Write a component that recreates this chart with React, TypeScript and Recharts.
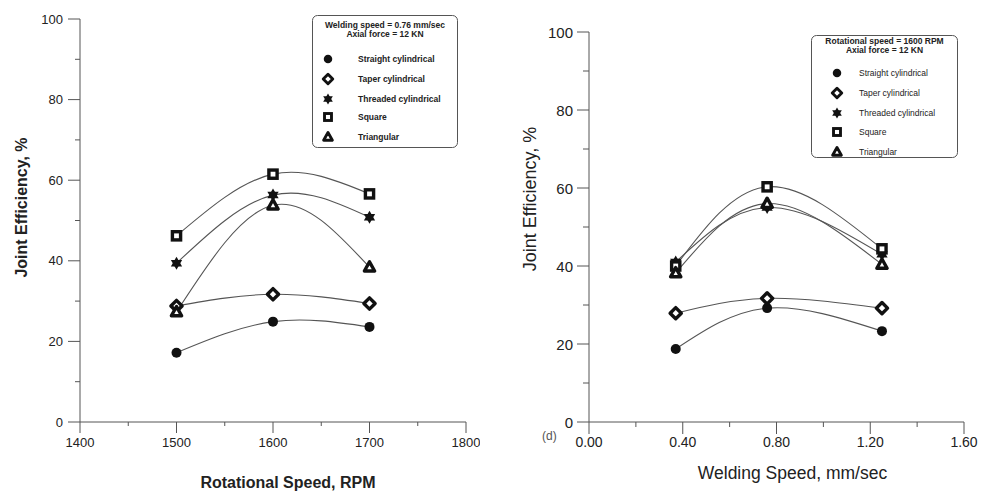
import React from "react";
import { LineChart, Line, XAxis, YAxis, Label } from "recharts";

// ---- Left panel: joint efficiency vs rotational speed ----
const rpmValues = [1500, 1600, 1700];
const leftStraight = [17.2, 24.9, 23.6];
const leftTaper = [28.8, 31.7, 29.4];
const leftThreaded = [39.4, 56.3, 50.8];
const leftSquare = [46.2, 61.5, 56.6];
const leftTriangular = [27.3, 53.8, 38.4];
const rpmTicks = [1400, 1450, 1500, 1550, 1600, 1650, 1700, 1750, 1800];

// ---- Right panel: joint efficiency vs welding speed ----
const speedValues = [0.37, 0.76, 1.25];
const rightStraight = [18.7, 29.2, 23.3];
const rightTaper = [27.9, 31.7, 29.2];
const rightThreaded = [41.0, 55.0, 43.0];
const rightSquare = [40.0, 60.3, 44.4];
const rightTriangular = [38.2, 56.0, 40.4];
const speedTicks = [0, 0.2, 0.4, 0.6, 0.8, 1.0, 1.2, 1.4, 1.6];

const effTicks = [0, 10, 20, 30, 40, 50, 60, 70, 80, 90, 100];

const seriesNames = [
  "Straight cylindrical",
  "Taper cylindrical",
  "Threaded cylindrical",
  "Square",
  "Triangular",
];
const seriesKeys = ["straight", "taper", "threaded", "square", "triangular"];
const seriesKinds = ["circle", "diamond", "star", "square", "triangle"];

const leftTitle = ["Welding speed = 0.76 mm/sec", "Axial force = 12 KN"];
const rightTitle = ["Rotational speed = 1600 RPM", "Axial force = 12 KN"];

const FONT = "'Liberation Sans', Arial, sans-serif";
const INK = "#222";
const AXIS = "#555";
const LINE = "#555";

const leftData = rpmValues.map((x, i) => ({
  x,
  straight: leftStraight[i],
  taper: leftTaper[i],
  threaded: leftThreaded[i],
  square: leftSquare[i],
  triangular: leftTriangular[i],
}));

const rightData = speedValues.map((x, i) => ({
  x,
  straight: rightStraight[i],
  taper: rightTaper[i],
  threaded: rightThreaded[i],
  square: rightSquare[i],
  triangular: rightTriangular[i],
}));

function Marker({ cx, cy, kind, s = 1 }: { cx: number; cy: number; kind: string; s?: number }) {
  const sw = 3.4 * s;
  if (kind === "circle") return <circle cx={cx} cy={cy} r={5 * s} fill="#111" />;
  if (kind === "diamond") {
    const r = 5.6 * s;
    return (
      <path
        d={`M${cx},${cy - r} L${cx + r},${cy} L${cx},${cy + r} L${cx - r},${cy} Z`}
        fill="#fff"
        stroke="#111"
        strokeWidth={sw}
        strokeLinejoin="round"
      />
    );
  }
  if (kind === "square") {
    const h = 4.1 * s;
    return <rect x={cx - h} y={cy - h} width={2 * h} height={2 * h} fill="#fff" stroke="#111" strokeWidth={sw} />;
  }
  if (kind === "triangle") {
    const r = 5.4 * s;
    return (
      <path
        d={`M${cx},${cy - r} L${cx + r * 0.95},${cy + r * 0.7} L${cx - r * 0.95},${cy + r * 0.7} Z`}
        fill="#fff"
        stroke="#111"
        strokeWidth={sw}
        strokeLinejoin="round"
      />
    );
  }
  // six-pointed star
  const r = 6.5 * s;
  const pts = (a0: number) =>
    [0, 1, 2]
      .map((k) => {
        const a = a0 + (k * 2 * Math.PI) / 3;
        return `${cx + r * Math.cos(a)},${cy + r * Math.sin(a)}`;
      })
      .join(" ");
  return (
    <g>
      <polygon points={pts(-Math.PI / 2)} fill="#111" />
      <polygon points={pts(Math.PI / 2)} fill="#111" />
    </g>
  );
}

function makeXTick(isMajor: (v: number) => boolean, fmt: (v: number) => string, majorLen: number, minorLen: number, fontSize: number, dy: number) {
  return (props: any) => {
    const { x, y, payload } = props;
    const v = payload.value;
    const major = isMajor(v);
    return (
      <g>
        <line x1={x} y1={y} x2={x} y2={y + (major ? majorLen : minorLen)} stroke={AXIS} strokeWidth={1} />
        {major && (
          <text x={x} y={y + dy} textAnchor="middle" dominantBaseline="central" fontSize={fontSize} fill={INK} fontFamily={FONT}>
            {fmt(v)}
          </text>
        )}
      </g>
    );
  };
}

function makeYTick(majorLen: number, minorLen: number, fontSize: number, dx: number) {
  return (props: any) => {
    const { x, y, payload } = props;
    const v = payload.value;
    const major = v % 20 === 0;
    return (
      <g>
        <line x1={x} y1={y} x2={x - (major ? majorLen : minorLen)} y2={y} stroke={AXIS} strokeWidth={1} />
        {major && (
          <text x={x - dx} y={y} textAnchor="end" dominantBaseline="central" fontSize={fontSize} fill={INK} fontFamily={FONT}>
            {v}
          </text>
        )}
      </g>
    );
  };
}

function LegendBox({ left, top, width, height, title, titleY, rowY, markerX, textX, bold, scale }: any) {
  return (
    <svg style={{ position: "absolute", left, top }} width={width} height={height}>
      <rect x={0.5} y={0.5} width={width - 1} height={height - 1} rx={5} fill="#fff" stroke={AXIS} strokeWidth={1} />
      {title.map((t: string, i: number) => (
        <text key={t} x={width / 2} y={titleY[i]} textAnchor="middle" dominantBaseline="central" fontSize={8.5} fontWeight="bold" fill={INK} fontFamily={FONT}>
          {t}
        </text>
      ))}
      {seriesNames.map((n, i) => (
        <g key={n}>
          <Marker cx={markerX} cy={rowY[i]} kind={seriesKinds[i]} s={scale} />
          <text x={textX} y={rowY[i]} dominantBaseline="central" fontSize={8.5} fontWeight={bold ? "bold" : "normal"} fill={INK} fontFamily={FONT}>
            {n}
          </text>
        </g>
      ))}
    </svg>
  );
}

function renderLines() {
  return seriesKeys.map((k, i) => (
    <Line
      key={k}
      dataKey={k}
      name={seriesNames[i]}
      type="natural"
      stroke={LINE}
      strokeWidth={1.1}
      isAnimationActive={false}
      activeDot={false}
      dot={(p: any) => <Marker key={`${k}-${p.index}`} cx={p.cx} cy={p.cy} kind={seriesKinds[i]} />}
    />
  ));
}

export default function App() {
  return (
    <div style={{ position: "absolute", left: 0, top: 0, width: 995, height: 493, background: "#fff", fontFamily: FONT }}>
      <div style={{ position: "absolute", left: 0, top: 0 }}>
        <LineChart width={480} height={493} data={leftData} margin={{ top: 19, right: 14, bottom: 0, left: 0 }}>
          <XAxis
            dataKey="x"
            type="number"
            domain={[1400, 1800]}
            ticks={rpmTicks}
            interval={0}
            height={71}
            tickSize={0}
            tickMargin={0}
            tickLine={false}
            axisLine={{ stroke: AXIS }}
            tick={makeXTick((v) => v % 100 === 0, (v) => String(v), 11, 4, 13, 20)}
          >
            <Label
              content={(p: any) => (
                <text x={p.viewBox.x + p.viewBox.width / 2 + 15} y={p.viewBox.y + 60} textAnchor="middle" dominantBaseline="central" fontSize={16} fontWeight="bold" fill={INK} fontFamily={FONT}>
                  Rotational Speed, RPM
                </text>
              )}
            />
          </XAxis>
          <XAxis xAxisId="top" orientation="top" type="number" domain={[1400, 1800]} height={0} tick={false} tickLine={false} axisLine={{ stroke: AXIS }} />
          <YAxis
            type="number"
            domain={[0, 100]}
            ticks={effTicks}
            interval={0}
            width={80}
            tickSize={0}
            tickMargin={0}
            tickLine={false}
            axisLine={{ stroke: AXIS }}
            tick={makeYTick(12, 5, 13, 17)}
          >
            <Label
              content={(p: any) => {
                const cx = p.viewBox.x + 21;
                const cy = p.viewBox.y + p.viewBox.height / 2 - 13;
                return (
                  <text x={cx} y={cy} transform={`rotate(-90 ${cx} ${cy})`} textAnchor="middle" dominantBaseline="central" fontSize={16} fontWeight="bold" fill={INK} fontFamily={FONT}>
                    Joint Efficiency, %
                  </text>
                );
              }}
            />
          </YAxis>
          <YAxis yAxisId="right" orientation="right" domain={[0, 100]} width={0} tick={false} tickLine={false} axisLine={{ stroke: AXIS }} />
          {renderLines()}
        </LineChart>
      </div>

      <div style={{ position: "absolute", left: 490, top: 0 }}>
        <LineChart width={505} height={493} data={rightData} margin={{ top: 32, right: 31, bottom: 0, left: 0 }}>
          <XAxis
            dataKey="x"
            type="number"
            domain={[0, 1.6]}
            ticks={speedTicks}
            interval={0}
            height={71}
            tickSize={0}
            tickMargin={0}
            tickLine={false}
            axisLine={{ stroke: AXIS }}
            tick={makeXTick((v) => Math.round(v * 10) % 4 === 0, (v) => v.toFixed(2), 12, 5, 14, 20)}
          >
            <Label
              content={(p: any) => (
                <text x={p.viewBox.x + p.viewBox.width / 2 + 16} y={p.viewBox.y + 51} textAnchor="middle" dominantBaseline="central" fontSize={17.5} fill={INK} fontFamily={FONT}>
                  Welding Speed, mm/sec
                </text>
              )}
            />
          </XAxis>
          <XAxis xAxisId="top" orientation="top" type="number" domain={[0, 1.6]} height={0} tick={false} tickLine={false} axisLine={{ stroke: AXIS }} />
          <YAxis
            type="number"
            domain={[0, 100]}
            ticks={effTicks}
            interval={0}
            width={99}
            tickSize={0}
            tickMargin={0}
            tickLine={false}
            axisLine={{ stroke: AXIS }}
            tick={makeYTick(12, 6, 15, 16)}
          >
            <Label
              content={(p: any) => {
                const cx = p.viewBox.x + 40;
                const cy = p.viewBox.y + p.viewBox.height / 2 - 28;
                return (
                  <text x={cx} y={cy} transform={`rotate(-90 ${cx} ${cy})`} textAnchor="middle" dominantBaseline="central" fontSize={18} fill={INK} fontFamily={FONT}>
                    Joint Efficiency, %
                  </text>
                );
              }}
            />
          </YAxis>
          <YAxis yAxisId="right" orientation="right" domain={[0, 100]} width={0} tick={false} tickLine={false} axisLine={{ stroke: AXIS }} />
          {renderLines()}
        </LineChart>
      </div>

      <LegendBox
        left={312}
        top={15}
        width={146}
        height={133}
        title={leftTitle}
        titleY={[10, 18.5]}
        rowY={[44, 64, 84, 102, 122]}
        markerX={16}
        textX={46}
        bold={true}
        scale={0.85}
      />
      <LegendBox
        left={811}
        top={35}
        width={147}
        height={123}
        title={rightTitle}
        titleY={[6, 14.5]}
        rowY={[38, 58, 78, 97, 117]}
        markerX={26}
        textX={48}
        bold={false}
        scale={0.85}
      />

      <div style={{ position: "absolute", left: 542, top: 429, fontSize: 12, color: "#555", fontFamily: FONT }}>(d)</div>
    </div>
  );
}
